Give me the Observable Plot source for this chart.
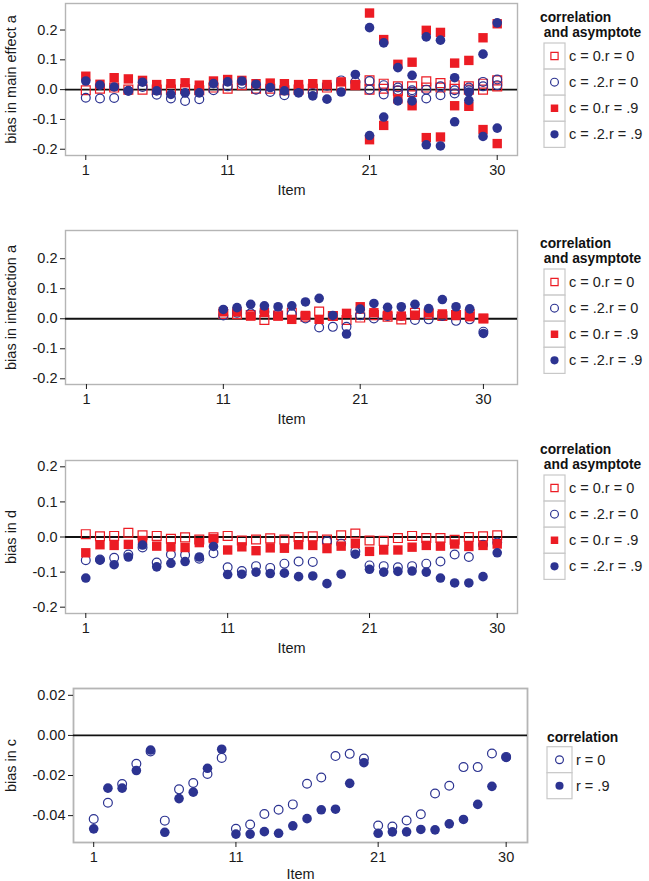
<!DOCTYPE html>
<html><head><meta charset="utf-8">
<script src="https://cdn.jsdelivr.net/npm/d3@7"></script>
<script src="https://cdn.jsdelivr.net/npm/@observablehq/plot@0.6"></script>
<style>
body{margin:0;background:#fff;}
#chart{position:relative;width:649px;height:881px;overflow:hidden;font-family:"Liberation Sans",Arial,sans-serif;}
#chart > svg, #chart > figure{position:absolute;left:0;margin:0;}
</style></head><body><div id="chart"></div>
<script>
// ---------- data ----------
const xTicks = [1, 11, 21, 30];
const abTicks = [-0.2, -0.1, 0, 0.1, 0.2];
const cTicks = [-0.04, -0.02, 0, 0.02];
const legendTitle4 = ["correlation", " and asymptote"];
const legendLabels4 = ["c = 0.r = 0", "c = .2.r = 0", "c = 0.r = .9", "c = .2.r = .9"];
const legendTitleC = ["correlation"];
const legendLabelsC = ["r = 0", "r = .9"];

// bias in main effect a, items 1-30
const mainA_c0r0 = [-0.002,0.003,0.007,0.000,0.000,0.000,0.000,0.002,-0.002,0.007,0.003,0.015,0.003,0.003,-0.002,0.000,0.003,0.007,0.011,0.015,0.031,0.020,0.011,0.011,0.028,0.022,0.015,0.011,0.020,0.031];
const mainA_c2r0 = [-0.027,-0.030,-0.028,-0.004,0.009,-0.017,-0.030,-0.038,-0.032,-0.002,0.011,0.020,0.000,-0.008,-0.019,-0.008,-0.011,0.013,0.031,0.026,0.029,0.015,0.007,-0.002,0.000,0.011,-0.002,0.007,0.026,0.034];
const mainA_c0r9 = [0.045,0.018,0.040,0.036,0.031,0.017,0.020,0.023,0.015,0.029,0.034,0.031,0.020,0.022,0.020,0.017,0.020,0.017,0.026,0.017,0.257,0.168,0.085,0.092,0.199,0.192,0.089,0.098,0.174,0.221];
const mainA_c2r9 = [0.029,0.015,0.009,-0.004,0.025,-0.004,-0.016,-0.011,-0.011,0.020,0.026,0.029,0.018,0.007,-0.004,-0.011,-0.021,-0.032,-0.008,0.051,0.208,0.157,0.074,0.048,0.177,0.166,0.040,-0.008,0.119,0.224];
// second estimate shown for items 21-30
const mainA2_items = [21,22,23,24,25,26,27,28,29,30];
const mainA2_c0r0 = [0.000,0.003,-0.004,-0.008,0.007,0.007,0.003,0.000,0.000,0.011];
const mainA2_c2r0 = [0.000,-0.016,-0.002,-0.008,-0.030,-0.019,-0.013,-0.002,0.011,0.015];
const mainA2_c0r9 = [-0.168,-0.120,-0.031,-0.054,-0.161,-0.159,-0.054,-0.056,-0.134,-0.181];
const mainA2_c2r9 = [-0.154,-0.092,-0.038,-0.038,-0.185,-0.189,-0.108,-0.036,-0.157,-0.129];

// bias in interaction a, items 11-30
const intA_items = [11,12,13,14,15,16,17,18,19,20,21,22,23,24,25,26,27,28,29,30];
const intA_c0r0 = [0.016,0.015,0.012,-0.004,0.011,0.020,0.007,0.024,0.009,-0.004,0.004,0.012,0.007,-0.002,0.020,0.016,0.009,0.012,0.016,0.001];
const intA_c2r0 = [0.011,0.020,0.018,0.023,0.016,0.016,0.001,-0.029,-0.027,-0.027,0.012,0.001,0.009,0.009,-0.004,-0.002,0.009,-0.007,-0.002,-0.043];
const intA_c0r9 = [0.023,0.023,0.009,0.021,0.009,-0.002,0.011,-0.002,0.009,0.018,0.040,0.020,0.012,0.009,0.012,0.020,0.016,0.012,0.007,0.001];
const intA_c2r9 = [0.031,0.037,0.048,0.043,0.040,0.043,0.056,0.068,0.011,-0.051,0.032,0.051,0.038,0.040,0.048,0.034,0.064,0.040,0.033,-0.049];

// bias in d, items 1-30
const d_c0r0 = [0.008,0.002,0.003,0.012,0.005,0.003,-0.005,-0.001,-0.007,-0.001,0.003,-0.010,-0.007,-0.004,-0.007,0.000,0.002,-0.007,0.005,0.010,-0.010,-0.011,-0.003,0.003,-0.003,-0.003,-0.008,0.000,0.002,0.005];
const d_c2r0 = [-0.066,-0.064,-0.059,-0.050,-0.030,-0.073,-0.050,-0.051,-0.062,-0.046,-0.086,-0.097,-0.083,-0.088,-0.076,-0.070,-0.071,-0.012,-0.019,-0.041,-0.081,-0.083,-0.086,-0.083,-0.076,-0.070,-0.050,-0.057,-0.022,-0.016];
const d_c0r9 = [-0.045,-0.022,-0.024,-0.021,-0.010,-0.026,-0.028,-0.030,-0.016,-0.005,-0.037,-0.028,-0.039,-0.031,-0.032,-0.022,-0.024,-0.033,-0.026,-0.019,-0.041,-0.037,-0.037,-0.029,-0.024,-0.026,-0.020,-0.027,-0.024,-0.020];
const d_c2r9 = [-0.117,-0.066,-0.079,-0.057,-0.023,-0.085,-0.075,-0.070,-0.057,-0.027,-0.107,-0.106,-0.100,-0.104,-0.103,-0.113,-0.111,-0.133,-0.106,-0.049,-0.092,-0.100,-0.098,-0.097,-0.100,-0.117,-0.131,-0.131,-0.113,-0.045];

// bias in c, items 1-30
const c_r0 = [-0.0417,-0.0336,-0.0242,-0.0141,-0.0080,-0.0425,-0.0269,-0.0237,-0.0192,-0.0112,-0.0466,-0.0444,-0.0392,-0.0371,-0.0344,-0.0241,-0.0210,-0.0103,-0.0092,-0.0115,-0.0449,-0.0454,-0.0424,-0.0393,-0.0290,-0.0251,-0.0158,-0.0158,-0.0090,-0.0107];
const c_r9 = [-0.0466,-0.0263,-0.0263,-0.0175,-0.0073,-0.0483,-0.0315,-0.0283,-0.0164,-0.0069,-0.0492,-0.0492,-0.0480,-0.0488,-0.0451,-0.0415,-0.0371,-0.0368,-0.0239,-0.0136,-0.0488,-0.0481,-0.0481,-0.0469,-0.0471,-0.0441,-0.0419,-0.0344,-0.0254,-0.0110];

// ---------- styles ----------
const RED = "#ec1c24", BLUE = "#2c3391";
const FONT = "'Liberation Sans', Arial, sans-serif";
const sty = {
  c0r0: {symbol: "square", fill: "none", stroke: RED, r: 5.0, sw: 1.2},
  c2r0: {symbol: "circle", fill: "none", stroke: BLUE, r: 4.4, sw: 1.2},
  c0r9: {symbol: "square", fill: RED, stroke: "none", r: 5.3, sw: 0},
  c2r9: {symbol: "circle", fill: BLUE, stroke: "none", r: 4.8, sw: 0},
  r0:   {symbol: "circle", fill: "none", stroke: BLUE, r: 4.4, sw: 1.2},
  r9:   {symbol: "circle", fill: BLUE, stroke: "none", r: 4.8, sw: 0}
};

function rows(items, values, series) {
  return values.map((v, i) => ({item: items[i], value: v, series})).filter(d => d.value != null);
}
const allItems = d3.range(1, 31);

const minus = s => s.replace("\u2212", "-");
function makePanel(cfg) {
  const marks = [
    Plot.frame({stroke: "#b5b5b5", strokeWidth: cfg.frameW || 1.4}),
    Plot.ruleY([0], {stroke: "#111", strokeWidth: 1.8}),
    Plot.axisY(cfg.yTicks, {tickSize: 5, tickPadding: 3, tickFormat: d => minus(d3.format(cfg.fmt)(d)),
      label: cfg.ylabel, labelAnchor: "center", labelOffset: cfg.ylabelOffset, labelArrow: "none", fontSize: cfg.fs || 14.5}),
    Plot.axisX(xTicks, {tickSize: 5, tickPadding: 4, label: "Item", labelAnchor: "center",
      labelOffset: cfg.xlabelOffset, labelArrow: "none", fontSize: cfg.fs || 14.5})
  ];
  for (const [key, data] of cfg.groups) {
    const s = sty[key];
    marks.push(Plot.dot(data, {x: "item", y: "value", symbol: s.symbol, r: s.r, fill: s.fill, stroke: s.stroke, strokeWidth: s.sw}));
  }
  const svg = Plot.plot({
    width: 649, height: cfg.height,
    marginLeft: cfg.ml, marginRight: cfg.mr, marginTop: cfg.mt, marginBottom: cfg.mb,
    x: {domain: cfg.xDomain}, y: {domain: cfg.yDomain},
    style: {fontFamily: FONT, fontSize: "14.5px", color: "#1a1a1a", background: "transparent"},
    marks
  });
  svg.style.top = cfg.top + "px";
  document.getElementById("chart").appendChild(svg);
}

function makeLegend(cfg) {
  const svg = d3.create("svg").attr("width", cfg.width).attr("height", cfg.height)
    .style("position", "absolute").style("left", cfg.left + "px").style("top", cfg.top + "px")
    .style("font-family", FONT).style("overflow", "visible");
  cfg.title.forEach((t, i) => svg.append("text").attr("x", 0).attr("y", cfg.titleY + i * 15.5)
    .attr("dominant-baseline", "central").attr("font-weight", "bold").attr("font-size", 13.8)
    .attr("fill", "#111").style("white-space", "pre").text(t));
  cfg.keys.forEach((k, i) => {
    const y0 = cfg.keyTop + i * cfg.keyH;
    svg.append("rect").attr("x", cfg.keyX).attr("y", y0).attr("width", cfg.keyW).attr("height", cfg.keyH)
      .attr("fill", "#fff").attr("stroke", "#c8c8c8").attr("stroke-width", 1.2);
    const s = sty[k];
    const sym = s.symbol === "square" ? d3.symbolSquare : d3.symbolCircle;
    const size = s.symbol === "square" ? (s.fill === "none" ? 52 : 56) : (s.fill === "none" ? 48 : 52);
    svg.append("path").attr("d", d3.symbol(sym, size)())
      .attr("transform", `translate(${cfg.keyX + cfg.keyW / 2},${y0 + cfg.keyH / 2})`)
      .attr("fill", s.fill).attr("stroke", s.stroke).attr("stroke-width", s.sw);
    svg.append("text").attr("x", cfg.keyX + cfg.keyW + 4).attr("y", y0 + cfg.keyH / 2)
      .attr("dominant-baseline", "central").attr("font-size", 14.5).attr("fill", "#222").text(cfg.labels[i]);
  });
  document.getElementById("chart").appendChild(svg.node());
}

const keys4 = ["c0r0", "c2r0", "c0r9", "c2r9"];
const ab = {xDomain: [-0.43, 31.43], yDomain: [-0.221, 0.289], yTicks: abTicks, fmt: ".1f", ml: 65, mr: 132, mt: 3, height: 200, ylabelOffset: 60, xlabelOffset: 39};

// Panel 1
makePanel({...ab, top: 0, mb: 45, ylabel: "bias in main effect a",
  groups: [
    ["c0r0", rows(allItems, mainA_c0r0, "c0r0").concat(rows(mainA2_items, mainA2_c0r0, "c0r0"))],
    ["c2r0", rows(allItems, mainA_c2r0, "c2r0").concat(rows(mainA2_items, mainA2_c2r0, "c2r0"))],
    ["c0r9", rows(allItems, mainA_c0r9, "c0r9").concat(rows(mainA2_items, mainA2_c0r9, "c0r9"))],
    ["c2r9", rows(allItems, mainA_c2r9, "c2r9").concat(rows(mainA2_items, mainA2_c2r9, "c2r9"))]
  ]});
// Panel 2
makePanel({...ab, top: 227, mb: 43, xDomain: [-0.53, 32.49], yDomain: [-0.219, 0.294], ylabel: "bias in interaction a",
  groups: [
    ["c0r0", rows(intA_items, intA_c0r0, "c0r0")],
    ["c2r0", rows(intA_items, intA_c2r0, "c2r0")],
    ["c0r9", rows(intA_items, intA_c0r9, "c0r9")],
    ["c2r9", rows(intA_items, intA_c2r9, "c2r9")]
  ]});
// Panel 3
makePanel({...ab, top: 457, mb: 44, yDomain: [-0.218, 0.218], ylabel: "bias in d",
  groups: [
    ["c0r0", rows(allItems, d_c0r0, "c0r0")],
    ["c2r0", rows(allItems, d_c2r0, "c2r0")],
    ["c0r9", rows(allItems, d_c0r9, "c0r9")],
    ["c2r9", rows(allItems, d_c2r9, "c2r9")]
  ]});
// Panel 4
makePanel({xDomain: [-0.42, 31.5], yDomain: [-0.0534, 0.0234], yTicks: cTicks, fmt: ".2f", ml: 73, mr: 122, mt: 3, mb: 39,
  height: 196, top: 685, ylabel: "bias in c", ylabelOffset: 68, xlabelOffset: 36, frameW: 1.8,
  groups: [["r0", rows(allItems, c_r0, "r0")], ["r9", rows(allItems, c_r9, "r9")]]});

// Legends
const leg4 = {width: 112, height: 150, title: legendTitle4, labels: legendLabels4, keys: keys4, keyX: 4, keyW: 21, keyH: 26.1, titleY: 0, keyTop: 26};
makeLegend({...leg4, left: 540, top: 17.3});
makeLegend({...leg4, left: 540, top: 243});
makeLegend({...leg4, left: 540, top: 449});
makeLegend({width: 100, height: 80, title: legendTitleC, labels: legendLabelsC, keys: ["r0", "r9"], keyX: 0, keyW: 25, keyH: 26, titleY: 0, keyTop: 9.7, left: 546.7, top: 737});
</script></body></html>
